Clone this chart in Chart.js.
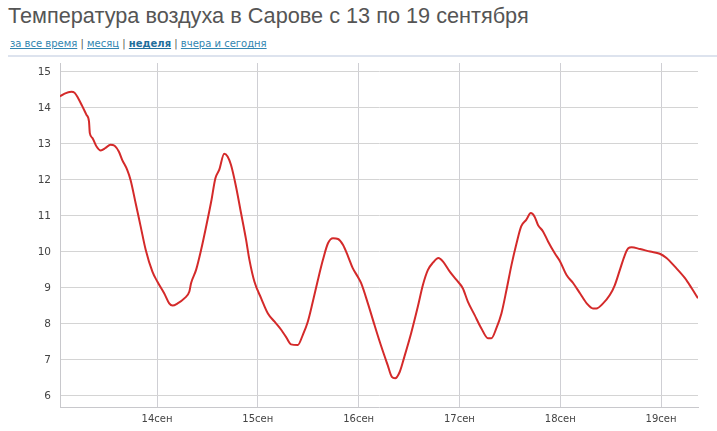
<!DOCTYPE html>
<html>
<head>
<meta charset="utf-8">
<script src="https://cdn.jsdelivr.net/npm/chart.js@4/dist/chart.umd.min.js"></script>
<style>
  html, body { margin: 0; padding: 0; background: #fff; width: 717px; height: 431px; overflow: hidden; }
  #title { position: absolute; left: 8px; top: 3px; font-family: "Liberation Sans", Arial, sans-serif; font-size: 21.7px; color: #555; white-space: nowrap; }
  #links { position: absolute; left: 10px; top: 38px; font-family: "DejaVu Sans", Verdana, sans-serif; font-size: 10px; color: #555; white-space: nowrap; }
  #links a { color: #3185b0; text-decoration: underline; }
  #links a.cur { color: #1f6f9c; font-weight: bold; }
  #sep { position: absolute; left: 8px; right: 0; top: 55px; height: 2px; background: #dde3ee; }
  #wrap { position: absolute; left: 0; top: 58px; width: 717px; height: 373px; }
</style>
</head>
<body>
<div id="title">Температура воздуха в Сарове с 13 по 19 сентября</div>
<div id="links"><a>за все время</a> | <a>месяц</a> | <a class="cur">неделя</a> | <a>вчера и сегодня</a></div>
<div id="sep"></div>
<div id="wrap"><canvas id="c" width="717" height="373"></canvas></div>
<script>
// hours since 13 Sep 00:00
const hours = [0.9,2.0,3.6,4.4,5.2,6.2,7.2,7.8,8.0,8.6,9.6,10.6,11.75,12.9,13.9,14.9,15.7,16.9,17.7,18.9,20.1,21.3,22.9,24.1,25.7,26.9,27.7,28.9,30.5,31.7,32.1,33.3,34.5,35.7,36.9,37.9,38.8,40.0,40.8,41.6,42.8,44.0,45.2,46.0,47.2,48.8,50.4,52.0,53.6,54.7,55.9,57.5,58.7,59.9,61.1,62.3,63.5,64.7,65.9,67.1,68.3,69.5,70.6,71.8,72.6,74.2,75.8,77.4,78.9,79.9,80.7,81.8,82.9,84.5,86.1,87.3,88.5,89.7,91.0,92.1,93.7,95.3,96.8,98.0,99.6,101.2,102.8,103.6,104.8,106.0,107.2,108.4,109.6,110.7,111.9,113.0,113.9,114.7,115.9,117.1,118.7,119.9,121.5,123.1,124.7,126.3,127.8,128.6,130.2,131.8,133.0,134.2,135.4,136.2,137.0,139.0,141.4,143.7,145.3,147.3,149.7,151.3,152.8];
const temps = [14.32,14.40,14.45,14.42,14.28,14.05,13.81,13.63,13.30,13.17,12.93,12.82,12.89,12.98,12.95,12.79,12.56,12.28,12.00,11.36,10.71,10.06,9.45,9.17,8.85,8.57,8.51,8.57,8.71,8.90,9.13,9.50,10.06,10.71,11.40,12.05,12.28,12.73,12.65,12.42,11.82,11.08,10.34,9.78,9.17,8.71,8.29,8.06,7.83,7.64,7.43,7.41,7.69,8.06,8.62,9.22,9.78,10.24,10.38,10.36,10.19,9.87,9.55,9.31,9.13,8.57,7.96,7.37,6.86,6.53,6.49,6.67,7.09,7.74,8.48,9.08,9.50,9.70,9.83,9.73,9.45,9.22,8.99,8.62,8.25,7.88,7.60,7.60,7.88,8.29,8.94,9.64,10.24,10.71,10.89,11.08,10.98,10.75,10.57,10.29,9.96,9.75,9.36,9.13,8.85,8.57,8.43,8.43,8.57,8.80,9.08,9.50,9.92,10.10,10.13,10.08,10.01,9.95,9.83,9.59,9.27,8.99,8.71];
const xTickHours = [24,48,72,96,120,144];
const xTickLabels = ['14сен','15сен','16сен','17сен','18сен','19сен'];
const yTicks = [6,7,8,9,10,11,12,13,14,15];

const points = hours.map((h,i)=>({x:h, y:temps[i]}));

new Chart(document.getElementById('c'), {
  type: 'line',
  data: { datasets: [{
    data: points,
    borderColor: '#d42a2a',
    borderWidth: 2,
    pointRadius: 0,
    fill: false,
    cubicInterpolationMode: 'monotone'
  }]},
  options: {
    responsive: false,
    animation: false,
    events: [],
    layout: { padding: { top: 5, right: 19, left: 0, bottom: 0 } },
    plugins: { legend: { display: false }, tooltip: { enabled: false } },
    scales: {
      x: {
        type: 'linear',
        min: 0.9, max: 152.8,
        afterBuildTicks: s => { s.ticks = xTickHours.map(v=>({value:v})); },
        afterFit: s => { s.height = 24; s.paddingLeft = 0; s.paddingRight = 0; },
        ticks: {
          callback: (v) => { const i = xTickHours.indexOf(v); return i >= 0 ? xTickLabels[i] : ''; },
          font: { family: '"DejaVu Sans", Verdana, sans-serif', size: 10 },
          color: '#444', padding: 6, maxRotation: 0, autoSkip: false
        },
        grid: { color: '#cfcfd4', drawTicks: false, lineWidth: 1 },
        border: { color: '#c8c8cc', width: 1 }
      },
      y: {
        min: 5.69, max: 15.25,
        afterBuildTicks: s => { s.ticks = yTicks.map(v=>({value:v})); },
        afterFit: s => { s.width = 60; s.paddingTop = 0; s.paddingBottom = 0; },
        ticks: {
          font: { family: '"DejaVu Sans", Verdana, sans-serif', size: 10.5 },
          color: '#444', padding: 9
        },
        grid: { color: '#d4d4d4', drawTicks: false, lineWidth: 1 },
        border: { color: '#c8c8cc', width: 1 }
      }
    }
  }
});
</script>
</body>
</html>
